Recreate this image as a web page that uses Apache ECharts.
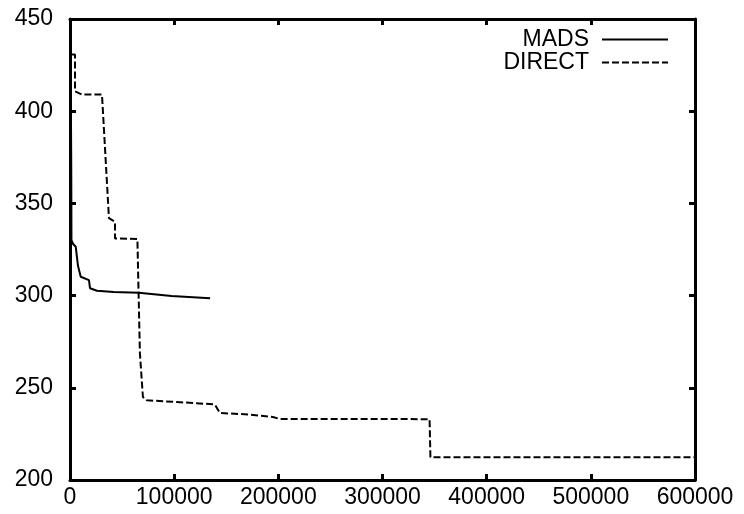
<!DOCTYPE html>
<html>
<head>
<meta charset="utf-8">
<script src="https://cdn.jsdelivr.net/npm/echarts@6/dist/echarts.min.js"></script>
<style>
html,body{margin:0;padding:0;background:#fff;}
#c{width:744px;height:514px;}
</style>
</head>
<body>
<div id="c"></div>
<script>
var seriesNames = ['MADS', 'DIRECT'];
var xTicks = [0, 100000, 200000, 300000, 400000, 500000, 600000];
var yTicks = [200, 250, 300, 350, 400, 450];

var madsX = [300, 800, 1200, 1400, 3000, 5500, 7700, 10300, 18200, 19200, 25900, 42000, 66000, 97500, 134500];
var madsY = [449, 410, 370, 330, 328, 326.5, 316, 310.2, 308.4, 304, 302.6, 302, 301.5, 299.8, 298.5];

var directX = [1800, 4800, 4800, 11500, 30700, 37400, 38400, 43200, 43200, 64700, 67100, 70000, 73800, 102600, 139000, 143900, 172600, 194700, 201400, 345200, 346000, 600000];
var directY = [430.7, 430.7, 410.8, 409, 409, 342, 341, 340, 331, 330.7, 268.8, 245, 243.2, 242.3, 241, 236.3, 235.5, 234.2, 233.1, 233, 212.4, 212.4];

function pairs(xs, ys) { return xs.map(function (x, i) { return [x, ys[i]]; }); }

var font = 'Liberation Sans';
var fs = 23;
var axisLineStyle = { color: '#000', width: 3 };
function xAx(pos, showLabel) {
  return {
    type: 'value', position: pos, min: xTicks[0], max: xTicks[xTicks.length - 1],
    interval: xTicks[1] - xTicks[0],
    axisLine: { show: true, onZero: false, lineStyle: axisLineStyle },
    axisTick: { show: true, inside: true, length: 6, lineStyle: { color: '#000', width: 3 } },
    splitLine: { show: false },
    axisLabel: { show: showLabel, color: '#000', fontSize: fs, fontFamily: font, margin: 6,
      formatter: function (v) { return String(v); } }
  };
}
function yAx(pos, showLabel) {
  return {
    type: 'value', position: pos, min: yTicks[0], max: yTicks[yTicks.length - 1],
    interval: yTicks[1] - yTicks[0],
    axisLine: { show: true, onZero: false, lineStyle: axisLineStyle },
    axisTick: { show: true, inside: true, length: 6, lineStyle: { color: '#000', width: 3 } },
    splitLine: { show: false },
    axisLabel: { show: showLabel, color: '#000', fontSize: fs, fontFamily: font, margin: 17,
      formatter: function (v) { return String(v); } }
  };
}

var chart = echarts.init(document.getElementById('c'), null, { renderer: 'canvas' });
chart.setOption({
  animation: false,
  backgroundColor: '#fff',
  grid: { left: 70, right: 49, top: 19, bottom: 34, containLabel: false },
  legend: {
    orient: 'vertical', right: 70, top: 23, align: 'right',
    itemWidth: 66, itemHeight: 12, itemGap: 0,
    itemStyle: { opacity: 0 },
    textStyle: { color: '#000', fontSize: fs, fontFamily: font, padding: [0, 8, 0, 0] },
    data: seriesNames
  },
  xAxis: [xAx('bottom', true), xAx('top', false)],
  yAxis: [yAx('left', true), yAx('right', false)],
  series: [
    {
      name: seriesNames[0], type: 'line', xAxisIndex: 0, yAxisIndex: 0,
      data: pairs(madsX, madsY), symbol: 'none', showSymbol: false,
      lineStyle: { color: '#000', width: 2, type: 'solid' }, itemStyle: { color: '#000' }
    },
    {
      name: seriesNames[1], type: 'line', xAxisIndex: 0, yAxisIndex: 0,
      data: pairs(directX, directY), symbol: 'none', showSymbol: false,
      lineStyle: { color: '#000', width: 2, type: [7, 3] }, itemStyle: { color: '#000' }
    }
  ]
});
</script>
</body>
</html>
